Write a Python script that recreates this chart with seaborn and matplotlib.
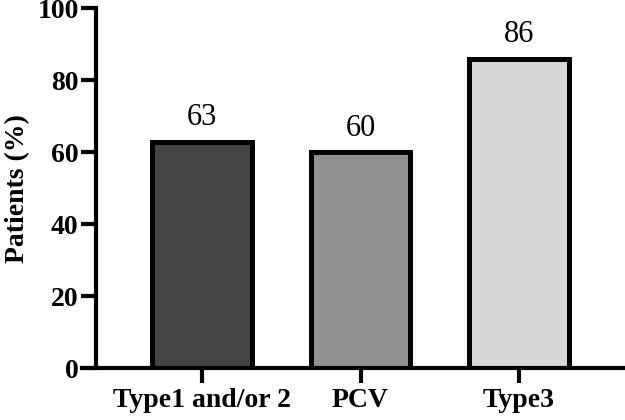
import matplotlib
matplotlib.use("Agg")
import matplotlib.pyplot as plt
import seaborn as sns
import pandas as pd

categories = ["Type1 and/or 2", "PCV", "Type3"]
values = [63, 60, 86]
colors = ["#444444", "#909090", "#d7d7d7"]
y_ticks = [0, 20, 40, 60, 80, 100]

sns.set_theme(style="ticks")
plt.rcParams["font.family"] = ["Liberation Serif", "DejaVu Serif"]

df = pd.DataFrame({"category": categories, "value": values})

fig = plt.figure(figsize=(6.25, 4.2), dpi=100)
ax = fig.add_axes([0.1536, 0.1238, 0.8464, 0.856])

sns.barplot(data=df, x="category", y="value", hue="category",
            palette=colors, order=categories, hue_order=categories,
            width=0.63, edgecolor="black", linewidth=3.6,
            legend=False, ax=ax, saturation=1)

for c in ax.containers:
    ax.bar_label(c, labels=[f"{v:g}" for v in c.datavalues], padding=7,
                 fontsize=22, color="black")

ax.set_ylim(0, 100)
ax.set_xlim(-0.67, 2.67)
ax.set_yticks(y_ticks)
ax.set_xlabel("")
ax.set_ylabel("Patients (%)", fontsize=20, fontweight="bold", color="black")
ax.yaxis.set_label_coords(-0.124, 0.5)

for side in ["top", "right"]:
    ax.spines[side].set_visible(False)
for side in ["left", "bottom"]:
    ax.spines[side].set_linewidth(3)
    ax.spines[side].set_color("black")
ax.spines["bottom"].set_bounds(-0.67 - 14/158.5, 2.67)
ax.spines["bottom"].set_clip_on(False)

ax.tick_params(axis="both", width=3, length=10.5, color="black",
               labelsize=20, labelcolor="black")
ax.tick_params(axis="y", pad=2)
ax.tick_params(axis="x", pad=4)
for lab in ax.get_xticklabels() + ax.get_yticklabels():
    lab.set_fontweight("bold")

fig.savefig("out.png", dpi=100, facecolor="white")
